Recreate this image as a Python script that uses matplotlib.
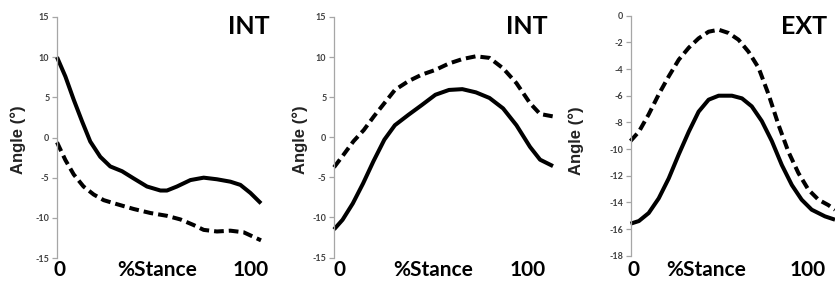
import matplotlib
matplotlib.use("Agg")
import matplotlib.pyplot as plt

# ---- data ----
# Panel 1 (INT)
p1_solid_x = [0, 4.1, 8.2, 12.3, 16.3, 21.2, 26.1, 31.9, 37.6, 44.1, 50.7, 53.9, 58.8, 65.4, 71.9, 78.4, 85, 89.9, 94.8, 100]
p1_solid_y = [10, 7.6, 4.7, 2.0, -0.5, -2.4, -3.6, -4.2, -5.1, -6.1, -6.6, -6.6, -6.1, -5.3, -5.0, -5.2, -5.5, -5.9, -6.9, -8.2]
p1_dash_x = [0, 4.1, 8.2, 13, 18, 22.9, 29.4, 37.6, 45.8, 53.9, 60.5, 67, 71.9, 78.4, 85, 91.5, 100]
p1_dash_y = [-0.6, -2.8, -4.6, -6.1, -7.1, -7.8, -8.3, -8.9, -9.4, -9.75, -10.2, -10.9, -11.5, -11.7, -11.6, -11.8, -12.8]

# Panel 2 (INT)
p2_solid_x = [0, 3.9, 8.6, 13.3, 18, 23, 27.8, 34, 40, 46.3, 52.5, 58.6, 64.8, 71, 77.2, 83.3, 89.5, 94.1, 100]
p2_solid_y = [-11.5, -10.3, -8.25, -5.75, -3.0, -0.3, 1.5, 2.8, 4.0, 5.3, 5.9, 6.0, 5.6, 4.9, 3.6, 1.5, -1.2, -2.8, -3.6]
p2_dash_x = [0, 4.3, 8.9, 13.6, 18.2, 23, 27.8, 34, 40, 46.3, 52.5, 58.6, 64.8, 71, 77.2, 83.3, 89.5, 94.1, 100]
p2_dash_y = [-3.75, -2.2, -0.5, 0.9, 2.6, 4.25, 5.9, 7.0, 7.8, 8.4, 9.2, 9.75, 10.1, 9.9, 8.6, 6.75, 4.25, 2.9, 2.6]

# Panel 3 (EXT)
p3_solid_x = [0, 4.1, 8.9, 13.8, 18.7, 23.6, 28.5, 33.3, 38.2, 43.1, 49.6, 54.5, 59.3, 64.2, 69.1, 74, 78.9, 83.7, 88.6, 95.1, 100]
p3_solid_y = [-15.6, -15.4, -14.8, -13.7, -12.2, -10.4, -8.7, -7.2, -6.3, -6.0, -6.0, -6.2, -6.8, -7.9, -9.4, -11.2, -12.7, -13.8, -14.55, -15.05, -15.3]
p3_dash_x = [0, 4.1, 8.9, 13.8, 18.7, 23.6, 28.5, 33.3, 38.2, 43.1, 48, 52.8, 57.7, 62.6, 67.5, 72.4, 77.2, 82.1, 87, 91.9, 96.7, 100]
p3_dash_y = [-9.4, -8.7, -7.4, -5.9, -4.55, -3.3, -2.4, -1.7, -1.2, -1.05, -1.3, -1.8, -2.7, -3.9, -5.9, -8.2, -10.2, -11.8, -13.05, -13.8, -14.2, -14.55]

titles = ["INT", "INT", "EXT"]
p1_ticks = [15, 10, 5, 0, -5, -10, -15]
p2_ticks = [15, 10, 5, 0, -5, -10, -15]
p3_ticks = [0, -2, -4, -6, -8, -10, -12, -14, -16, -18]
x_labels = ["0", "%Stance", "100"]
y_label = "Angle (°)"

W, H = 835, 288
plt.rcParams["lines.scale_dashes"] = False
fig = plt.figure(figsize=(W / 100, H / 100), dpi=100)

# pixel layouts: (axis x, right x, top y, bottom y)
layouts = [(57, 261, 17, 258), (334, 553, 17, 257.5), (630.5, 835, 15.7, 255.7)]
label_px = [(60, 157, 251), (339, 433, 528), (633, 706, 808)]
title_px = [(249, 27), (527, 27), (804, 27)]
ylabel_px = [(18, 140), (300, 140), (576, 141)]

series = [
    (p1_solid_x, p1_solid_y, p1_dash_x, p1_dash_y, p1_ticks),
    (p2_solid_x, p2_solid_y, p2_dash_x, p2_dash_y, p2_ticks),
    (p3_solid_x, p3_solid_y, p3_dash_x, p3_dash_y, p3_ticks),
]

calibri_like = ["Lato", "DejaVu Sans"]
gray = "#a6a6a6"

for i, (sx, sy, dx, dy, ticks) in enumerate(series):
    l, r, t, b = layouts[i]
    ax = fig.add_axes([l / W, 1 - b / H, (r - l) / W, (b - t) / H])
    ax.plot(sx, sy, color="black", lw=2.9, solid_capstyle="butt",
            solid_joinstyle="round", clip_on=False)
    ax.plot(dx, dy, color="black", lw=2.9, dashes=(7, 3.6), dash_capstyle="butt",
            dash_joinstyle="round", clip_on=False)
    ax.set_xlim(0, 100)
    ax.set_ylim(min(ticks), max(ticks))
    ax.set_yticks(ticks)
    ax.set_yticklabels([str(v) for v in ticks], fontsize=6.5, fontweight="bold",
                       color="#404040", family=calibri_like)
    ax.set_xticks([])
    for s in ["top", "right", "bottom"]:
        ax.spines[s].set_visible(False)
    ax.spines["left"].set_color(gray)
    ax.spines["left"].set_linewidth(0.9)
    ax.tick_params(axis="y", direction="out", length=3.5, width=0.9, color=gray, pad=2)
    ax.patch.set_alpha(0)
    yx, yy = ylabel_px[i]
    fig.text(yx / W, 1 - yy / H, y_label, rotation=90, ha="center", va="center",
             fontsize=12, fontweight="bold", color="#222222",
             family=["Liberation Sans", "DejaVu Sans"])
    for txt, px in zip(x_labels, label_px[i]):
        fig.text(px / W, 1 - 270 / H, txt, ha="center", va="center", fontsize=15,
                 fontweight="bold", family=calibri_like)
    tx, ty = title_px[i]
    fig.text(tx / W, 1 - ty / H, titles[i], ha="center", va="center", fontsize=18,
             fontweight="bold", family=calibri_like)

fig.savefig("out.png", dpi=100)
